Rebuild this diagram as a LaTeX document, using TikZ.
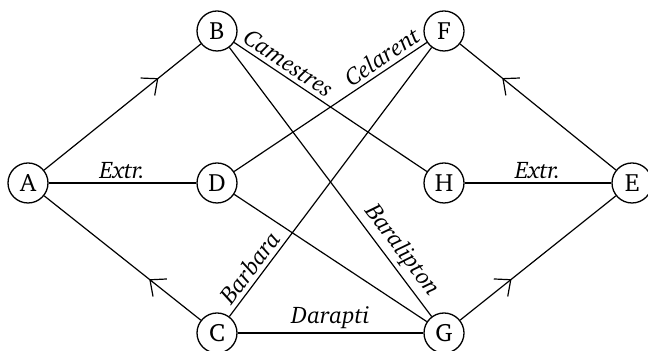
\documentclass[tikz,border=0pt]{standalone}
\usepackage[T1]{fontenc}
\usepackage{charter}
\usetikzlibrary{decorations.markings,arrows.meta}
\tikzset{
  vert/.style={circle,draw,line width=0.65pt,minimum size=20pt,inner sep=0pt,font=\fontsize{12.5}{14}\selectfont},
  edge/.style={line width=0.6pt},
  lab/.style={font=\fontsize{12}{14}\selectfont\itshape,inner sep=2pt},
  midarr/.style={postaction={decorate},decoration={markings,mark=at position #1 with {\arrow{Straight Barb[length=4pt,width=7pt,line width=0.6pt,scale=1.6]}}}}
}
\begin{document}
\begin{tikzpicture}[x=0.5pt,y=-0.5pt]
\useasboundingbox (0,0) rectangle (648,351);
\node[vert] (A) at (28,183) {A};
\node[vert] (B) at (217,31) {B};
\node[vert] (D) at (217,183) {D};
\node[vert] (C) at (217,333) {C};
\node[vert] (F) at (444,31) {F};
\node[vert] (H) at (444,183) {H};
\node[vert] (G) at (444,333) {G};
\node[vert] (E) at (632,183) {E};
\draw[edge,midarr=0.73] (A) -- (B);
\draw[edge,midarr=0.33] (C) -- (A);
\draw[edge,midarr=0.73] (E) -- (F);
\draw[edge,midarr=0.33] (G) -- (E);
\draw[edge] (A) -- node[lab,above]{Extr.} (D);
\draw[edge] (H) -- node[lab,above]{Extr.} (E);
\draw[edge] (B) -- node[lab,above,sloped,pos=0.245]{Camestres} (H);
\draw[edge] (D) -- node[lab,above,sloped,pos=0.805]{Celarent} (F);
\draw[edge] (C) -- node[lab,above,sloped,pos=0.153]{Barbara} (F);
\draw[edge] (B) -- node[lab,above,sloped,pos=0.79]{Baralipton} (G);
\draw[edge] (D) -- (G);
\draw[edge] (C) -- node[lab,above]{Darapti} (G);
\end{tikzpicture}
\end{document}
